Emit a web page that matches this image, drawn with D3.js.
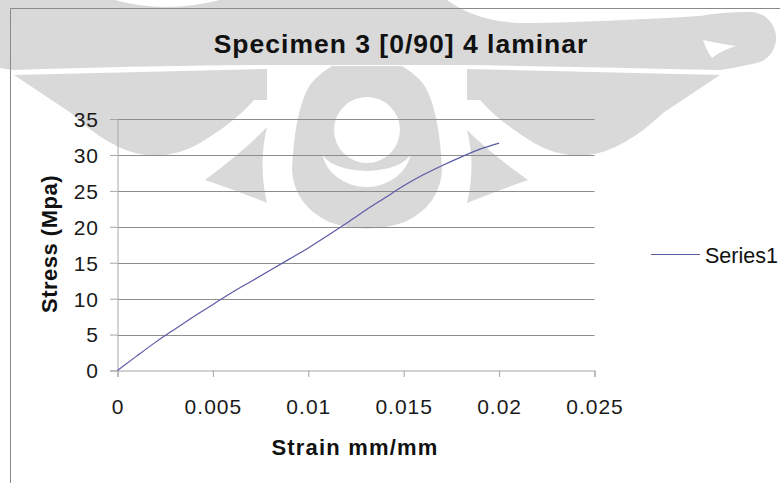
<!DOCTYPE html>
<html>
<head>
<meta charset="utf-8">
<script src="https://cdn.jsdelivr.net/npm/d3@7"></script>
<style>
  html, body { margin: 0; padding: 0; background: #fff; }
  svg { display: block; font-family: "Liberation Sans", Arial, sans-serif; }
</style>
</head>
<body>
<svg id="chart" width="780" height="483"></svg>
<script>
// Tensile test, specimen 3, [0/90] 4-ply laminate
const strain = [0, 0.001, 0.002, 0.003, 0.004, 0.005, 0.006, 0.007, 0.008, 0.009, 0.010,
                0.011, 0.012, 0.013, 0.014, 0.015, 0.016, 0.017, 0.018, 0.019, 0.020];
const stress = [0, 2.0, 3.95, 5.75, 7.5, 9.2, 10.85, 12.4, 13.95, 15.5, 17.05,
                18.75, 20.5, 22.3, 24.0, 25.7, 27.2, 28.5, 29.7, 30.8, 31.65];
const xTicks = [0, 0.005, 0.01, 0.015, 0.02, 0.025];
const yTicks = [0, 5, 10, 15, 20, 25, 30, 35];
const seriesName = "Series1";
const titleText = "Specimen 3 [0/90] 4 laminar";
const xTitle = "Strain mm/mm";
const yTitle = "Stress (Mpa)";

// Page watermark (emblem) behind the chart
const emblemGray = [
  // upper band with curled ends
  "M0,0 L115,0 Q165,14 220,0 L447,0 Q480,24 530,23 Q600,22 700,16 Q722,12 748,12 A26,26 0 1 1 752,64 Q735,68 720,70 Q600,67 467,65 L266,65 Q130,66 14,70 L0,68 Z",
  "M-28,40 A27,27 0 1 1 26,40 A27,27 0 1 1 -28,40 Z",
  // left and right blades
  "M267,69 L14,75 L71,113 Q110,150 145,155 Q175,158 200,143 Q235,122 254,100 L267,100 Z",
  "M467,69 L720,75 L663,113 Q624,150 589,155 Q559,158 534,143 Q499,122 480,100 L467,100 Z",
  // teardrop
  "M332,66 L402,66 Q422,78 428,92 Q440,120 442,170 Q440,205 405,222 Q367,235 329,222 Q294,205 292,170 Q294,120 306,92 Q312,78 332,66 Z",
  // side wings
  "M267,127 Q245,150 205,180 Q240,192 267,203 Q258,165 267,127 Z",
  "M467,130 Q489,152 528,180 Q494,192 467,203 Q476,166 467,130 Z"
];
const emblemWhite = [
  "M334,130 A33,33 0 1 1 400,130 A33,33 0 1 1 334,130 Z",
  "M322,153 A45,40 0 0 0 411,153 A45,21 0 0 1 322,153 Z",
  "M703,40 Q722,44 736,46 Q722,50 712,58 Q706,50 703,40 Z"
];

const svg = d3.select("#chart");
svg.append("rect").attr("width", 780).attr("height", 483).attr("fill", "#fff");

const emblem = svg.append("g");
emblem.selectAll("path.g").data(emblemGray).join("path")
  .attr("class", "g").attr("d", d => d).attr("fill", "#d9d9d9");
emblem.selectAll("path.w").data(emblemWhite).join("path")
  .attr("class", "w").attr("d", d => d).attr("fill", "#fff");

// chart area frame
svg.append("path")
  .attr("d", "M10.5,483 V8.5 H780")
  .attr("fill", "none").attr("stroke", "#8a8a8a").attr("stroke-width", 1);

const x = d3.scaleLinear().domain([0, 0.025]).range([117.5, 594.5]);
const y = d3.scaleLinear().domain([0, 35]).range([370.5, 119]);

// horizontal gridlines
svg.append("g").selectAll("line").data(yTicks.filter(d => d > 0)).join("line")
  .attr("x1", x(0)).attr("x2", x(0.025))
  .attr("y1", d => Math.round(y(d)) + 0.5).attr("y2", d => Math.round(y(d)) + 0.5)
  .attr("stroke", "#8c8c8c").attr("stroke-width", 1);

// y axis
const yAxis = svg.append("g").attr("transform", `translate(${x(0)},0)`)
  .call(d3.axisLeft(y).tickValues(yTicks).tickSize(7.5).tickPadding(11).tickFormat(d => String(d)));
yAxis.selectAll("path.domain, line").attr("stroke", "#a6a6a6");
yAxis.selectAll("text")
  .attr("font-size", 21).attr("letter-spacing", 1).attr("fill", "#1a1a1a")
  .attr("dy", "0.35em").attr("font-family", "Liberation Sans, Arial, sans-serif");

// x axis
const xAxis = svg.append("g").attr("transform", `translate(0,${y(0)})`)
  .call(d3.axisBottom(x).tickValues(xTicks).tickSize(6.5).tickFormat(d => String(d)));
xAxis.selectAll("path.domain, line").attr("stroke", "#a6a6a6");
xAxis.selectAll("text")
  .attr("font-size", 21).attr("letter-spacing", 1).attr("fill", "#1a1a1a")
  .attr("y", 43.5).attr("dy", 0).attr("font-family", "Liberation Sans, Arial, sans-serif");

// stress-strain curve
const pts = strain.map((s, i) => [s, stress[i]]);
svg.append("path")
  .datum(pts)
  .attr("fill", "none")
  .attr("stroke", "#5b5ba6")
  .attr("stroke-width", 1.2)
  .attr("d", d3.line().x(d => x(d[0])).y(d => y(d[1])).curve(d3.curveMonotoneX));

// titles
svg.append("text").attr("x", 401).attr("y", 53).attr("text-anchor", "middle")
  .attr("font-size", 26.5).attr("font-weight", "bold").attr("letter-spacing", 1)
  .attr("fill", "#111").text(titleText);
svg.append("text").attr("x", 355).attr("y", 455).attr("text-anchor", "middle")
  .attr("font-size", 22).attr("font-weight", "bold").attr("letter-spacing", 1.2)
  .attr("fill", "#111").text(xTitle);
svg.append("text").attr("transform", "translate(57,244) rotate(-90)").attr("text-anchor", "middle")
  .attr("font-size", 22).attr("font-weight", "bold").attr("letter-spacing", 0.5)
  .attr("fill", "#111").text(yTitle);

// legend
const legend = svg.append("g").attr("transform", "translate(651,254.5)");
legend.append("line").attr("x1", 0).attr("x2", 49).attr("y1", 0).attr("y2", 0)
  .attr("stroke", "#5b5ba6").attr("stroke-width", 1.2);
legend.append("text").attr("x", 54).attr("y", 8).attr("font-size", 21.5)
  .attr("fill", "#111").text(seriesName);
</script>
</body>
</html>
